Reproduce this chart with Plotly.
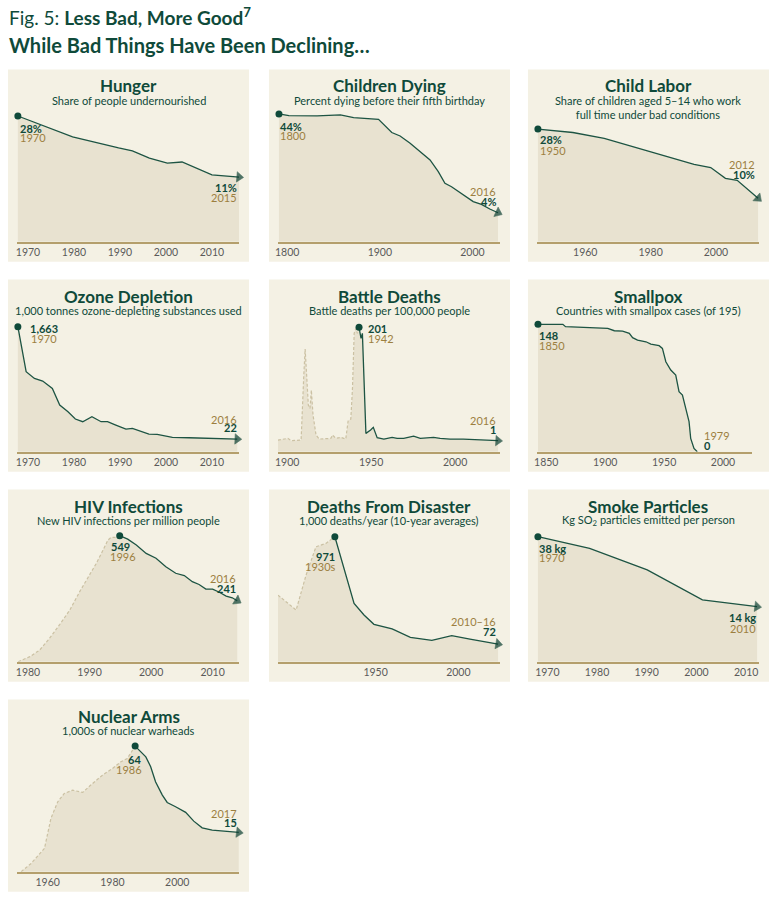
import plotly.graph_objects as go

# Fig. 5: Less Bad, More Good -- ten small area charts

W, H = 774, 899
FONT = "Lato"
GREEN = "#0f4a3a"
LINE = "#1d5443"
ARROW = "#0b3f31"
GOLD = "#9c7f3f"
PANEL = "#f4f1e4"
FILL = "#e8e2d0"
AXIS = "#b49f6c"
TICK = "#5a5a5a"
DASH = "#cbc1a3"

# ---- data ----
hunger_year = [1967.8, 1979.7, 1989.7, 1992.7, 1996.4, 2000.3, 2003.5, 2006.4, 2010.0, 2015.9]
hunger_pct = [28.0, 22.2, 19.1, 18.3, 16.3, 14.9, 15.2, 13.5, 11.6, 11.0]

child_year = [1791.1, 1801.8, 1832.3, 1846.6, 1857.4, 1871.7, 1898.6, 1912.9, 1921.9, 1932.7,
              1943.4, 1954.2, 1963.1, 1970.3, 1977.4, 1990.0, 2000.8, 2009.7, 2018.7, 2027.6]
child_pct = [44.0, 43.3, 43.2, 43.6, 43.6, 42.5, 41.8, 36.5, 35.1, 32.2,
             28.8, 25.4, 20.7, 16.0, 14.6, 11.3, 8.6, 7.5, 5.6, 4.1]

labor_year = [1945.5, 1956.2, 1965.8, 1974.5, 1983.6, 1993.3, 1998.4, 2002.9, 2006.5, 2009.5, 2012.9]
labor_pct = [28.0, 27.1, 25.6, 23.4, 21.3, 18.8, 18.0, 15.2, 14.7, 12.6, 10.0]

ozone_year = [1967.8, 1969.6, 1971.4, 1973.2, 1975.3, 1976.9, 1978.7, 1980.3, 1981.9, 1983.9, 1985.9,
              1987.3, 1989.1, 1991.3, 1992.7, 1996.3, 1998.1, 2001.4, 2005.0, 2008.6, 2012.2, 2015.5]
ozone_kt = [1663, 1006, 908, 869, 762, 519, 421, 314, 275, 348, 275,
            275, 226, 168, 178, 95, 90, 46, 41, 32, 32, 22]

battle_pre_year = [1894.5, 1900.4, 1902.4, 1908.3, 1909.9, 1910.7, 1911.6, 1912.6, 1913.6, 1914.4,
                   1915.4, 1917.2, 1919.1, 1926.0, 1927.0, 1929.0, 1932.0, 1934.9, 1936.3, 1937.9,
                   1938.9, 1939.9, 1940.9, 1941.8, 1942.8]
battle_pre_val = [2.1, 5.1, 1.0, 2.1, 116.9, 162.8, 116.9, 63.9, 58.0, 90.4,
                  46.3, 11.0, 3.9, 5.1, 11.0, 5.1, 7.0, 3.9, 35.7, 39.2,
                  93.3, 190.4, 199.2, 190.4, 201]
battle_year = [1942.8, 1944.0, 1944.8, 1945.8, 1946.9, 1949.7, 1951.3, 1953.6, 1957.6, 1962.5,
               1965.5, 1969.4, 1975.3, 1979.3, 1987.2, 1991.1, 1997.0, 2004.9, 2014.8, 2025.6]
battle_val = [201, 181.6, 190.4, 116.9, 13.9, 19.8, 24.5, 6.3, 3.9, 7.0,
              5.1, 5.1, 9.2, 5.1, 7.0, 5.1, 3.9, 3.9, 2.7, 1.0]

pox_year = [1843.0, 1864.1, 1866.4, 1886.7, 1902.2, 1907.8, 1914.8, 1920.5, 1923.3, 1927.5, 1934.6, 1938.8,
            1945.8, 1948.6, 1951.5, 1955.7, 1959.9, 1962.7, 1965.6, 1968.4, 1971.2, 1972.6, 1975.4, 1978.2]
pox_n = [148, 148, 145.3, 144.5, 143.4, 140.6, 140.2, 137.5, 132.5, 129.8, 127.8, 125.1,
         123.2, 120.1, 104.6, 94.9, 89.1, 69.7, 65.9, 50.4, 34.9, 15.5, 3.9, 0]

hiv_pre_year = [1978.4, 1980.3, 1981.9, 1983.5, 1985.1, 1986.8, 1988.4, 1990.0, 1991.1, 1992.2,
                1993.0, 1993.5, 1994.3, 1994.9]
hiv_pre_val = [-48, -24, 7, 63, 126, 197, 284, 363, 418, 481, 529, 541, 541, 549]
hiv_year = [1994.9, 1996.2, 1997.6, 1999.2, 2000.8, 2002.4, 2004.0, 2005.4, 2006.7, 2007.8,
            2008.9, 2010.0, 2011.1, 2012.2, 2013.2, 2014.0]
hiv_val = [549, 533, 505, 465, 442, 402, 371, 360, 331, 318, 296, 296, 281, 263, 255, 241]

dis_pre_year = [1891, 1902, 1908, 1914, 1920, 1925.4]
dis_pre_val = [482, 357, 650, 887, 915, 971]
dis_year = [1925.4, 1937, 1943, 1949, 1960, 1971, 1984, 1996, 2007, 2024]
dis_val = [971, 413, 315, 237, 198, 128, 103, 142, 114, 72]

smoke_year = [1968.1, 1978.5, 1990.1, 2001.2, 2012.2]
smoke_kg = [38, 34, 26.6, 16.3, 14]

nuke_pre_year = [1951.8, 1954.9, 1959.0, 1961.0, 1963.1, 1965.1, 1967.7, 1970.8, 1973.3, 1976.9,
                 1980.0, 1982.6, 1984.6, 1987.0]
nuke_pre_val = [-7.3, -2.6, 5.9, 23.0, 32.4, 37.1, 39.0, 37.7, 41.9, 47.5, 51.3, 55.1, 57.0, 64]
nuke_year = [1987.0, 1990.3, 1991.8, 1993.3, 1995.4, 1996.9, 1999.5, 2002.6, 2005.1, 2007.7,
             2010.8, 2015.9, 2019.0]
nuke_val = [64, 57.9, 52.3, 43.8, 36.2, 32.0, 29.6, 26.4, 21.4, 17.6, 16.3, 15.7, 15]

# ---- panels: data + layout ----
panels = [
    dict(title="Hunger", sub="Share of people undernourished", col=0, row=0,
         pre=None, x=hunger_year, y=hunger_pct, ticks=[1970, 1980, 1990, 2000, 2010],
         xr=[1967.6, 2015.9], yr=[-7.0, 29.2], arrow=True,
         labels=[("28%", 15, 63.3, "left", 1), ("1970", 15, 72.7, "left", 0),
                 ("11%", 237, 122.7, "right", 1), ("2015", 237, 132.7, "right", 0)]),
    dict(title="Children Dying", sub="Percent dying before their fifth birthday", col=1, row=0,
         pre=None, x=child_year, y=child_pct, ticks=[1800, 1900, 2000],
         xr=[1790.0, 2029.8], yr=[-7.6, 44.9], arrow=True,
         labels=[("44%", 14, 61.7, "left", 1), ("1800", 14, 70.7, "left", 0),
                 ("2016", 235, 126, "right", 0), ("4%", 235, 136, "right", 1)]),
    dict(title="Child Labor", sub="Share of children aged 5–14 who work<br>full time under bad conditions",
         col=2, row=0, pre=None, x=labor_year, y=labor_pct, ticks=[1960, 1980, 2000],
         xr=[1945.2, 2013.2], yr=[-1.26, 32.5], arrow=True,
         labels=[("28%", 15, 75, "left", 1), ("1950", 15, 85, "left", 0),
                 ("2012", 235, 99.3, "right", 0), ("10%", 235, 109.3, "right", 1)]),
    dict(title="Ozone Depletion", sub="1,000 tonnes ozone-depleting substances used", col=0, row=1,
         pre=None, x=ozone_year, y=ozone_kt, ticks=[1970, 1980, 1990, 2000, 2010],
         xr=[1967.6, 2015.9], yr=[-163, 1736], arrow=True,
         labels=[("1,663", 25, 53.3, "left", 1), ("1970", 26, 63.3, "left", 0),
                 ("2016", 236.7, 144, "right", 0), ("22", 236.7, 152.7, "right", 1)]),
    dict(title="Battle Deaths", sub="Battle deaths per 100,000 people", col=1, row=1,
         pre=(battle_pre_year, battle_pre_val), x=battle_year, y=battle_val, ticks=[1900, 1950, 2000],
         xr=[1894.5, 2026.8], yr=[-18.4, 211], arrow=True,
         labels=[("201", 102.7, 54, "left", 1), ("1942", 102.7, 63.3, "left", 0),
                 ("2016", 235, 145.7, "right", 0), ("1", 235, 154.3, "right", 1)]),
    dict(title="Smallpox", sub="Countries with smallpox cases (of 195)", col=2, row=1,
         pre=None, x=pox_year, y=pox_n, ticks=[1850, 1900, 1950, 2000],
         xr=[1842.1, 2024.7], yr=[0, 151.1], arrow=False, right=230,
         labels=[("148", 14, 60, "left", 1), ("1850", 14, 70, "left", 0),
                 ("1979", 180, 160.7, "left", 0), ("0", 180, 170, "left", 1)]),
    dict(title="HIV Infections", sub="New HIV infections per million people", col=0, row=2,
         pre=(hiv_pre_year, hiv_pre_val), x=hiv_year, y=hiv_val, ticks=[1980, 1990, 2000, 2010],
         xr=[1978.2, 2014.3], yr=[-48, 568], arrow=True,
         labels=[("549", 117.7, 61.7, "center", 1), ("1996", 120, 71, "center", 0),
                 ("2016", 235.7, 93.3, "right", 0), ("241", 235.7, 103.3, "right", 1)]),
    dict(title="Deaths From Disaster", sub="1,000 deaths/year (10-year averages)", col=1, row=2,
         pre=(dis_pre_year, dis_pre_val), x=dis_year, y=dis_val, ticks=[1950, 2000],
         xr=[1891.0, 2025.2], yr=[-76, 1013], arrow=True,
         labels=[("971", 73.3, 71.7, "right", 1), ("1930s", 74, 81, "right", 0),
                 ("2010–16", 235, 136.7, "right", 0), ("72", 235, 146, "right", 1)]),
    dict(title="Smoke Particles", sub="Kg SO<sub>2</sub> particles emitted per person", col=2, row=2,
         pre=None, x=smoke_year, y=smoke_kg, ticks=[1970, 1980, 1990, 2000, 2010],
         xr=[1967.9, 2012.6], yr=[-4.9, 39.7], arrow=True,
         labels=[("38 kg", 14, 63.3, "left", 1), ("1970", 14, 72.7, "left", 0),
                 ("14 kg", 235.7, 132.7, "right", 1), ("2010", 235.7, 143.3, "right", 0)]),
    dict(title="Nuclear Arms", sub="1,000s of nuclear warheads", col=0, row=3,
         pre=(nuke_pre_year, nuke_pre_val), x=nuke_year, y=nuke_val, ticks=[1960, 1980, 2000],
         xr=[1950.5, 2019.1], yr=[-7.3, 66.5], arrow=True,
         labels=[("64", 131.7, 64.3, "center", 1), ("1986", 126, 74, "center", 0),
                 ("2017", 236.7, 118.3, "right", 0), ("15", 236.7, 127.3, "right", 1)]),
]

COL_X = [0, 262, 522]      # panel origin x (panel left edge is +5)
ROW_Y = [65, 275, 485, 695]  # panel origin y
PW = 242
BASE = 176.7   # axis line, relative to origin
TOP = 46.7     # top of value range, relative to origin


def fx(x):
    return x / W


def fy(y):
    return 1 - y / H


fig = go.Figure()
shapes = []
annotations = [
    dict(text="Fig. 5: <b>Less Bad, More Good<sup>7</sup></b>", x=fx(4), y=fy(16),
         xanchor="left", yanchor="middle", font=dict(size=19, color=GREEN)),
    dict(text="<b>While Bad Things Have Been Declining…</b>", x=fx(4), y=fy(45),
         xanchor="left", yanchor="middle", font=dict(size=20, color=GREEN)),
]

for i, p in enumerate(panels):
    n = "" if i == 0 else str(i + 1)
    ox, oy = COL_X[p["col"]], ROW_Y[p["row"]]
    left = ox + 5
    shapes.append(dict(type="rect", xref="paper", yref="paper", layer="below",
                       x0=fx(left), x1=fx(left + PW), y0=fy(oy + 4.5), y1=fy(oy + BASE + 20),
                       fillcolor=PANEL, line=dict(width=0)))

    ymin = p["yr"][0]
    # area under the whole curve (dashed + solid parts)
    ax_x = (p["pre"][0][:-1] if p["pre"] else []) + p["x"]
    ax_y = (p["pre"][1][:-1] if p["pre"] else []) + p["y"]
    fig.add_trace(go.Scatter(x=ax_x + [ax_x[-1], ax_x[0]], y=ax_y + [ymin, ymin],
                             fill="toself", fillcolor=FILL, mode="none", hoverinfo="skip",
                             xaxis="x" + n, yaxis="y" + n))
    if p["pre"]:
        fig.add_trace(go.Scatter(x=p["pre"][0], y=p["pre"][1], mode="lines",
                                 line=dict(color=DASH, width=1.2, dash="3px,2px"),
                                 xaxis="x" + n, yaxis="y" + n))
    # solid line with an arrowhead at its end
    npts = len(p["x"])
    sizes = [0] * (npts - 1) + [9 if p["arrow"] else 0]
    fig.add_trace(go.Scatter(x=p["x"], y=p["y"], mode="lines+markers", cliponaxis=False,
                             line=dict(color=LINE, width=1.3),
                             marker=dict(size=sizes, symbol="triangle-up", color=ARROW,
                                         angleref="previous", line=dict(width=0.6, color=ARROW)),
                             xaxis="x" + n, yaxis="y" + n))
    # dot where the solid line starts
    fig.add_trace(go.Scatter(x=p["x"][:1], y=p["y"][:1], mode="markers", cliponaxis=False,
                             marker=dict(size=7, color=GREEN, line=dict(width=0)),
                             xaxis="x" + n, yaxis="y" + n))

    right = p.get("right", 237)
    fig.layout["xaxis" + n] = dict(domain=[fx(ox + 14), fx(ox + right)], range=p["xr"],
                                   anchor="y" + n, showline=True, linecolor=AXIS, linewidth=1.5,
                                   showgrid=False, zeroline=False, ticks="", tickvals=p["ticks"],
                                   tickfont=dict(size=10.5, color=TICK), fixedrange=True)
    fig.layout["yaxis" + n] = dict(domain=[fy(oy + BASE), fy(oy + TOP)], range=p["yr"],
                                   anchor="x" + n, visible=False, fixedrange=True)

    cx = left + PW / 2
    annotations.append(dict(text="<b>" + p["title"] + "</b>", x=fx(cx), y=fy(oy + 21),
                            xanchor="center", yanchor="middle", font=dict(size=17, color=GREEN)))
    two = "<br>" in p["sub"]
    annotations.append(dict(text=p["sub"], x=fx(cx), y=fy(oy + (43 if two else 35.3)),
                            xanchor="center", yanchor="middle", font=dict(size=11, color=GREEN)))
    for txt, lx, ly, anc, bold in p["labels"]:
        annotations.append(dict(text="<b>" + txt + "</b>" if bold else txt,
                                x=fx(ox + lx), y=fy(oy + ly), xanchor=anc, yanchor="middle",
                                font=dict(size=11, color=GREEN if bold else GOLD)))

fig.update_layout(
    width=W, height=H, margin=dict(l=0, r=0, t=0, b=0),
    paper_bgcolor="white", plot_bgcolor="rgba(0,0,0,0)",
    showlegend=False, font=dict(family=FONT, color=GREEN),
    shapes=shapes,
    annotations=[dict(a, xref="paper", yref="paper", showarrow=False) for a in annotations],
)

# page margin off, so the figure sits at the window's corner
fig.write_html("out.html", config={"displayModeBar": False},
               post_script="document.body.style.margin='0';")
